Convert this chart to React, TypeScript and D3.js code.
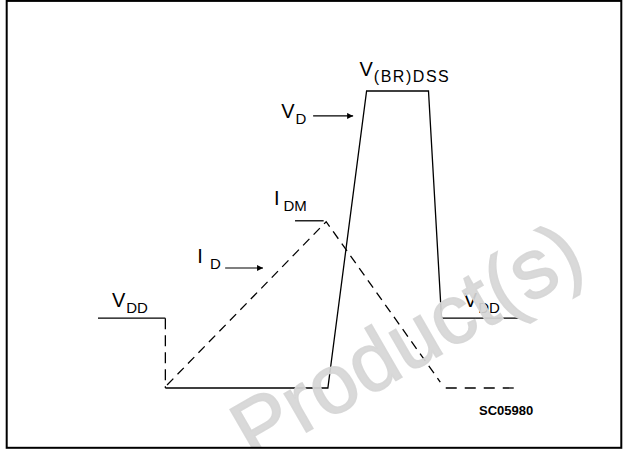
import React, { useEffect } from 'react'
import * as d3 from 'd3'

// time runs 0..100 (arbitrary), level in % of V(BR)DSS
const vddLevel = 23.5
const brLevel = 100
const idmLevel = 56

// V_D trace
const vddLeadT = [0, 16]
const vddLeadV = [vddLevel, vddLevel]
const vdDropT = [16, 16]
const vdDropV = [vddLevel, 0]
const vdT = [16, 54.6, 63.8, 78.5, 81.6, 100]
const vdV = [0, 0, brLevel, brLevel, vddLevel, vddLevel]

// I_D trace
const idT = [16.4, 54.2, 81.3]
const idV = [1, idmLevel, 2]
const idTailT = [82.6, 100]
const idTailV = [0, 0]
const idmMarkT = [46.8, 53.6]
const idmMarkV = [idmLevel + 0.3, idmLevel + 0.3]

// labels
const labelMain = ['V', 'V', 'V', 'I', 'I', 'V']
const labelSub = ['DD', 'D', '(BR)DSS', 'DM', 'D', 'DD']
const labelT = [3.3, 43.5, 62.1, 41.8, 23.6, 86.9]
const labelV = [27.4, 91.0, 105.0, 61.6, 42.1, 27.4]
const labelSubDx = [1, 1, 1, 4, 7, 1]

// arrows
const arrowT0 = [51.1, 30.2]
const arrowT1 = [60.6, 39.2]
const arrowV = [91.6, 40.4]

const figCode = 'SC05980'
const watermark = 'Product(s)'

const W = 625
const H = 450

const x = d3.scaleLinear().domain([0, 100]).range([98, 519])
const y = d3.scaleLinear().domain([0, 100]).range([388, 91])

const pts = (ts: number[], vs: number[]) => ts.map((t, i) => [t, vs[i]] as [number, number])
const line = d3.line<[number, number]>().x(d => x(d[0])).y(d => y(d[1]))

const font = "'Liberation Sans', Arial, sans-serif"

export default function App() {
  useEffect(() => {
    document.body.style.margin = '0'
  }, [])

  return (
    <svg width={W} height={H} style={{ display: 'block', background: '#fff' }}>
      <defs>
        <marker id="arr" viewBox="0 0 10 10" refX="10" refY="5" markerWidth="8" markerHeight="6"
          markerUnits="userSpaceOnUse" orient="auto">
          <path d="M0,0 L10,5 L0,10 z" fill="#000" />
        </marker>
        <clipPath id="frame">
          <rect x={7} y={1} width={614} height={446} />
        </clipPath>
      </defs>

      <g fill="none" stroke="#000" strokeWidth={1.3}>
        <path d={line(pts(vddLeadT, vddLeadV)) || ''} />
        <path d={line(pts(vdDropT, vdDropV)) || ''} strokeDasharray="11,6" />
        <path d={line(pts(vdT, vdV)) || ''} strokeLinejoin="miter" />
        <path d={line(pts(idT, idV)) || ''} strokeDasharray="9,6" />
        <path d={line(pts(idTailT, idTailV)) || ''} strokeDasharray="11,8" />
        <path d={line(pts(idmMarkT, idmMarkV)) || ''} />
        {arrowT0.map((t, i) => (
          <line key={i} x1={x(t)} x2={x(arrowT1[i])} y1={y(arrowV[i])} y2={y(arrowV[i])}
            strokeWidth={1.2} markerEnd="url(#arr)" />
        ))}
      </g>

      <g fontFamily={font} fill="#000">
        {labelMain.map((m, i) => (
          <text key={i} x={x(labelT[i])} y={y(labelV[i])} fontSize={20}>
            <tspan>{m}</tspan>
            <tspan dx={labelSubDx[i]} dy={6} fontSize={labelSub[i].length > 3 ? 16 : 15}
              {...(labelSub[i].length > 3 ? { textLength: 75, lengthAdjust: 'spacing' } : {})}>
              {labelSub[i]}
            </tspan>
          </text>
        ))}
        <text x={x(90.5)} y={y(-9.1)} fontSize={13} fontWeight="bold">{figCode}</text>
      </g>

      <g clipPath="url(#frame)">
        <text x={0} y={0} fontFamily={font} fontSize={84} fill="#d6d6d6" stroke="#d6d6d6"
          strokeWidth={1.5} fillOpacity={0.92} strokeOpacity={0.92}
          transform="translate(253,463) rotate(-30)">{watermark}</text>
      </g>

      <rect x={6.7} y={0.9} width={614.6} height={446.9} fill="none" stroke="#000" strokeWidth={2} />
    </svg>
  )
}
